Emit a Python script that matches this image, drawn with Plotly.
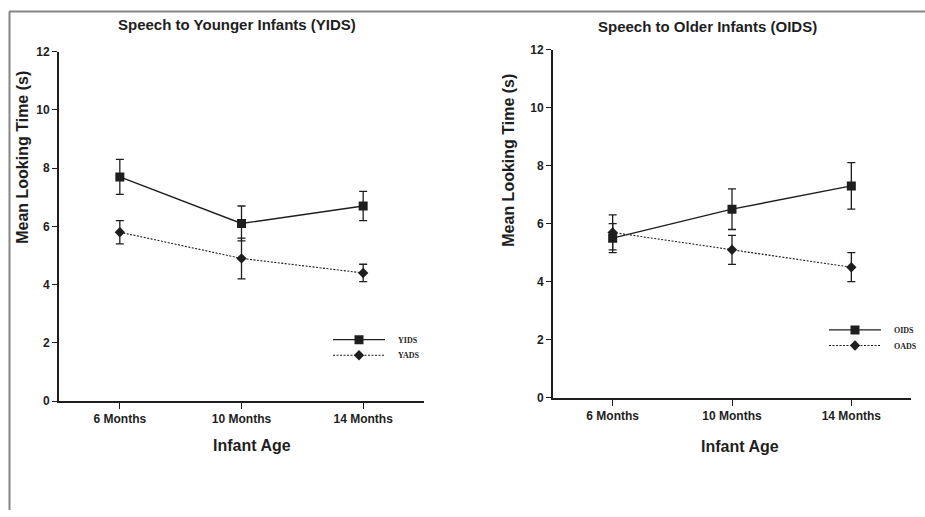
import plotly.graph_objects as go

ages = ["6 Months", "10 Months", "14 Months"]

yids = [7.7, 6.1, 6.7]
yids_err = [0.6, 0.6, 0.5]
yads = [5.8, 4.9, 4.4]
yads_err = [0.4, 0.7, 0.3]

oids = [5.5, 6.5, 7.3]
oids_err = [0.5, 0.7, 0.8]
oads = [5.7, 5.1, 4.5]
oads_err = [0.6, 0.5, 0.5]

y_ticks = [0, 2, 4, 6, 8, 10, 12]

W, H = 925, 517
INK = "#1e1e1e"
SANS = "Liberation Sans, Arial, sans-serif"
SERIF = "Liberation Serif, Times New Roman, serif"
PAD = "\u00a0\u00a0\u00a0\u00a0"


def px(x):
    return x / W


def py(y):
    return (H - y) / H


fig = go.Figure()


def add_series(name, vals, errs, symbol, size, dash, width, xa, ya, legend):
    fig.add_trace(go.Scatter(
        x=ages, y=vals, name=PAD + name, mode="lines+markers",
        xaxis=xa, yaxis=ya, legend=legend,
        line=dict(color=INK, width=width, dash=dash),
        marker=dict(symbol=symbol, size=size, color=INK),
        error_y=dict(type="data", array=errs, visible=True,
                     color=INK, thickness=1.3, width=4),
    ))


add_series("YIDS", yids, yids_err, "square", 9, "solid", 1.4, "x", "y", "legend")
add_series("YADS", yads, yads_err, "diamond", 8, "2px,1.5px", 1.1, "x", "y", "legend3")
add_series("OIDS", oids, oids_err, "square", 9, "solid", 1.4, "x2", "y2", "legend2")
add_series("OADS", oads, oads_err, "diamond", 8, "2px,1.5px", 1.1, "x2", "y2", "legend4")

axis_common = dict(
    showline=True, linecolor=INK, linewidth=2, showgrid=False, zeroline=False,
    ticks="outside", tickwidth=1.3, tickcolor=INK,
    tickfont=dict(family=SANS, size=12, color=INK, weight="bold"),
)


def leg(x, y):
    return dict(x=px(x), y=py(y), xanchor="left", yanchor="top",
                bgcolor="rgba(0,0,0,0)", itemwidth=52, tracegroupgap=0,
                font=dict(family=SERIF, size=8, color=INK, weight="bold"))


fig.update_layout(
    width=W, height=H,
    margin=dict(l=0, r=0, t=0, b=0),
    paper_bgcolor="white", plot_bgcolor="white",
    xaxis=dict(domain=[px(59), px(424)], anchor="y", type="category",
               range=[-0.5, 2.5], ticklen=6, **axis_common),
    yaxis=dict(domain=[py(405), py(46)], anchor="x", range=[0, 12],
               tickvals=y_ticks, ticklen=5, **axis_common),
    xaxis2=dict(domain=[px(553), px(911)], anchor="y2", type="category",
                range=[-0.5, 2.5], ticklen=6, **axis_common),
    yaxis2=dict(domain=[py(401.7), py(43.7)], anchor="x2", range=[0, 12],
                tickvals=y_ticks, ticklen=5, **axis_common),
    legend=leg(328, 327),
    legend3=leg(328, 343),
    legend2=leg(824, 317),
    legend4=leg(824, 333),
    showlegend=True,
)

title_font = dict(family=SANS, size=15, color=INK, weight="bold")
ytitle_font = dict(family=SANS, size=16, color=INK, weight="bold")
xtitle_font = dict(family=SANS, size=16, color=INK, weight="bold")

annotations = [
    dict(text="Speech to Younger Infants (YIDS)", x=px(237), y=py(18), font=title_font),
    dict(text="Speech to Older Infants (OIDS)", x=px(707), y=py(20), font=title_font),
    dict(text="Mean Looking Time (s)", x=px(23), y=py(155), textangle=-90, font=ytitle_font),
    dict(text="Mean Looking Time (s)", x=px(509), y=py(158), textangle=-90, font=ytitle_font),
    dict(text="Infant Age", x=px(252), y=py(451), font=xtitle_font),
    dict(text="Infant Age", x=px(740), y=py(452), font=xtitle_font),
]
for a in annotations:
    fig.add_annotation(xref="paper", yref="paper", showarrow=False,
                       xanchor="center", yanchor="middle", **a)

# outer frame lines (top and left edges of the original figure box)
fig.add_shape(type="line", xref="paper", yref="paper", x0=px(9), x1=1, y0=py(4.5), y1=py(4.5),
              line=dict(color="#858585", width=2))
fig.add_shape(type="line", xref="paper", yref="paper", x0=px(9.5), x1=px(9.5), y0=py(4.5), y1=0,
              line=dict(color="#858585", width=2))

post = (
    "var s=document.createElement('style');"
    "s.textContent='html,body{margin:0!important;padding:0!important;overflow:hidden;"
    "width:925px;height:517px;}';"
    "document.head.appendChild(s);"
    "var g=document.getElementById('{plot_id}');"
    "if(g){g.style.position='absolute';g.style.top='0px';g.style.left='0px';}"
)

fig.write_html("out.html", config={"displayModeBar": False}, post_script=post)
